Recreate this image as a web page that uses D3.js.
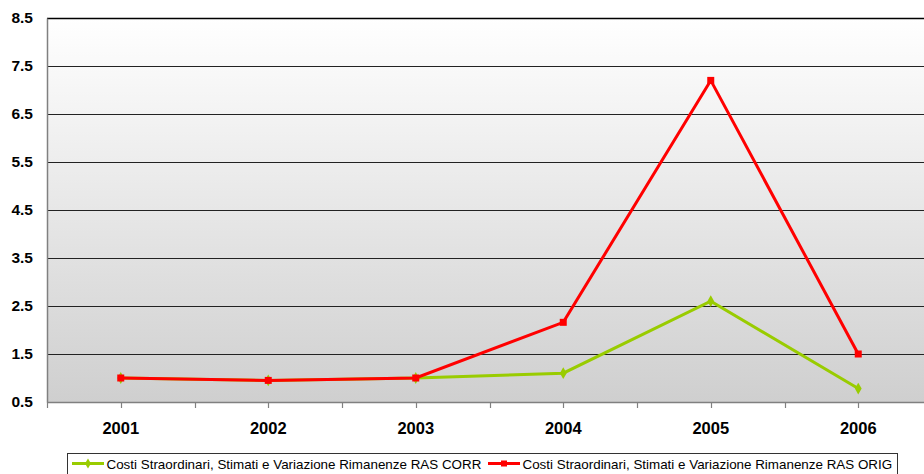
<!DOCTYPE html>
<html><head><meta charset="utf-8">
<script src="https://cdn.jsdelivr.net/npm/d3@7"></script>
<style>body{margin:0;background:#fff;}svg{display:block;font-family:"Liberation Sans",Arial,sans-serif;}</style>
</head><body>
<svg id="c" width="924" height="474"></svg>
<script>
const years = ["2001","2002","2003","2004","2005","2006"];
const corr = [1.0, 0.95, 1.0, 1.1, 2.6, 0.78];
const orig = [1.0, 0.95, 1.0, 2.16, 7.2, 1.5];
const yTicks = [0.5,1.5,2.5,3.5,4.5,5.5,6.5,7.5,8.5];
const seriesNames = ["Costi Straordinari, Stimati e Variazione Rimanenze RAS CORR","Costi Straordinari, Stimati e Variazione Rimanenze RAS ORIG"];

const svg = d3.select("#c");
const L = 47, T = 18, B = 402, R = 932;
const x = d3.scaleBand().domain(years).range([L, R]);
const y = d3.scaleLinear().domain([0.5, 8.5]).range([B, T]);
const cx = d => x(d) + x.bandwidth()/2;

const defs = svg.append("defs");
const g = defs.append("linearGradient").attr("id","bg").attr("x1",0).attr("y1",0).attr("x2",0).attr("y2",1);
g.append("stop").attr("offset","0%").attr("stop-color","#ffffff");
g.append("stop").attr("offset","100%").attr("stop-color","#cfcfcf");
svg.append("rect").attr("x",L).attr("y",T).attr("width",R-L).attr("height",B-T).attr("fill","url(#bg)");

// gridlines
svg.selectAll(".grid").data(yTicks.slice(1)).join("line")
  .attr("x1",L).attr("x2",R).attr("y1",d=>Math.round(y(d))+0.5).attr("y2",d=>Math.round(y(d))+0.5)
  .attr("stroke",d=>d===8.5?"#000":"#222").attr("stroke-width",d=>d===8.5?1.6:1);

// y axis
const ya = svg.append("g").attr("transform",`translate(${L},0)`)
  .call(d3.axisLeft(y).tickValues(yTicks).tickSize(0).tickPadding(14).tickFormat(d3.format(".1f")));
ya.select(".domain").attr("stroke","#808080").attr("stroke-width",1.5);
ya.selectAll("text").attr("font-size",15.5).attr("font-weight","bold").attr("fill","#000")
  .attr("font-family","Liberation Sans, Arial, sans-serif");

// x axis
svg.append("line").attr("x1",L).attr("x2",R).attr("y1",B+0.5).attr("y2",B+0.5).attr("stroke","#808080").attr("stroke-width",1.5);
const tickXs = [L].concat(...years.map(d=>[cx(d), x(d)+x.bandwidth()]));
svg.selectAll(".xt").data(tickXs).join("line")
  .attr("x1",d=>Math.round(d)+0.5).attr("x2",d=>Math.round(d)+0.5).attr("y1",B).attr("y2",B+6)
  .attr("stroke","#808080").attr("stroke-width",1.2);
svg.selectAll(".xl").data(years).join("text")
  .attr("x",d=>cx(d)).attr("y",433.5).attr("text-anchor","middle")
  .attr("font-size",16.5).attr("font-weight","bold").text(d=>d);

const line = d3.line().x((d,i)=>cx(years[i])).y(d=>y(d));
const colors = ["#99cc00","#ff0000"];
// CORR
svg.append("path").datum(corr).attr("d",line).attr("fill","none").attr("stroke",colors[0]).attr("stroke-width",3);
svg.selectAll(".mc").data(corr).join("path")
  .attr("d",d3.symbol(d3.symbolDiamond,40)).attr("fill",colors[0])
  .attr("transform",(d,i)=>`translate(${cx(years[i])},${y(d)})`);
// ORIG
svg.append("path").datum(orig).attr("d",line).attr("fill","none").attr("stroke",colors[1]).attr("stroke-width",3);
svg.selectAll(".mo").data(orig).join("rect")
  .attr("x",(d,i)=>cx(years[i])-3.5).attr("y",d=>y(d)-3.5).attr("width",7).attr("height",7).attr("fill",colors[1]);

// legend
const lg = svg.append("g");
lg.append("rect").attr("x",67.5).attr("y",453.5).attr("width",830).attr("height",25).attr("fill","#fff").attr("stroke","#333");
const items = [{x:72, name:seriesNames[0], c:colors[0], sym:"d"},{x:488, name:seriesNames[1], c:colors[1], sym:"s"}];
items.forEach(it=>{
  lg.append("line").attr("x1",it.x).attr("x2",it.x+32).attr("y1",463.5).attr("y2",463.5).attr("stroke",it.c).attr("stroke-width",3);
  if(it.sym==="d") lg.append("path").attr("d",d3.symbol(d3.symbolDiamond,30)).attr("fill",it.c).attr("transform",`translate(${it.x+16},463.5)`);
  else lg.append("rect").attr("x",it.x+13).attr("y",460.5).attr("width",6).attr("height",6).attr("fill",it.c);
  lg.append("text").attr("x",it.x+34.5).attr("y",469.3).attr("font-size",13.4).attr("fill","#000").text(it.name);
});
</script>
</body></html>
